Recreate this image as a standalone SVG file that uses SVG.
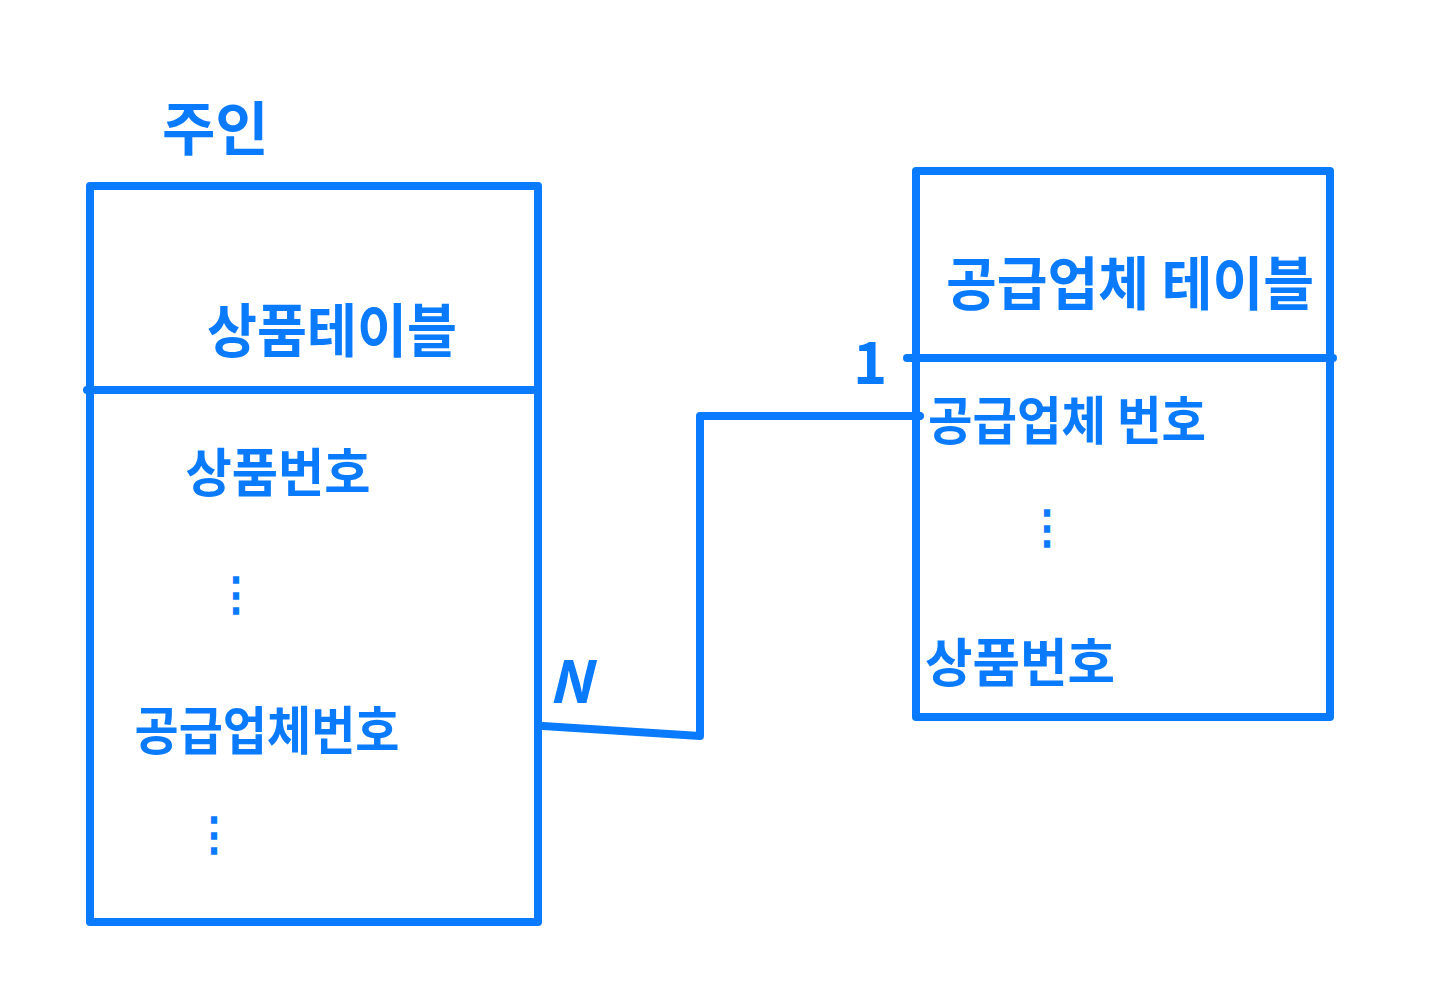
<svg xmlns="http://www.w3.org/2000/svg" width="1438" height="1000" viewBox="0 0 1438 1000">
<style>
.ln{fill:none;stroke:#0A7BFF;stroke-width:8;stroke-linecap:round;stroke-linejoin:round}
.t{font-family:"Noto Sans CJK KR","Noto Sans",sans-serif;fill:#0A7BFF;font-weight:700}
</style>
<rect width="1438" height="1000" fill="#ffffff"/>
<text class="t" x="162" y="150" font-size="58">주인</text>
<g id="product-table">
<rect class="ln" x="90" y="186" width="448" height="736"/>
<line class="ln" x1="87" y1="390" x2="538" y2="390"/>
<text class="t" x="332" y="352" font-size="58" text-anchor="middle" textLength="250" lengthAdjust="spacingAndGlyphs">상품테이블</text>
<text class="t" x="278" y="492" font-size="52" text-anchor="middle" textLength="185" lengthAdjust="spacingAndGlyphs">상품번호</text>
<text class="t" x="236" y="610" font-size="46" text-anchor="middle">⋮</text>
<text class="t" x="267" y="750" font-size="52" text-anchor="middle" textLength="265" lengthAdjust="spacingAndGlyphs">공급업체번호</text>
<text class="t" x="214" y="850" font-size="46" text-anchor="middle">⋮</text>
</g>
<g id="supplier-table">
<rect class="ln" x="916" y="171" width="414" height="546"/>
<line class="ln" x1="907" y1="358" x2="1333" y2="358"/>
<text class="t" x="1130" y="305" font-size="58" text-anchor="middle" textLength="368" lengthAdjust="spacingAndGlyphs">공급업체 테이블</text>
<text class="t" x="1067" y="440" font-size="52" text-anchor="middle" textLength="278" lengthAdjust="spacingAndGlyphs">공급업체 번호</text>
<text class="t" x="1047" y="543" font-size="46" text-anchor="middle">⋮</text>
<text class="t" x="1020" y="682" font-size="52" text-anchor="middle" textLength="190" lengthAdjust="spacingAndGlyphs">상품번호</text>
</g>
<g id="connectors">
<polyline class="ln" points="543,726 700,736 700,416 920,416"/>
<text class="t" x="570" y="703" font-size="58" text-anchor="middle" font-style="italic" font-weight="400">N</text>
<text class="t" x="870" y="384" font-size="58" text-anchor="middle" font-weight="400">1</text>
</g>
</svg>
